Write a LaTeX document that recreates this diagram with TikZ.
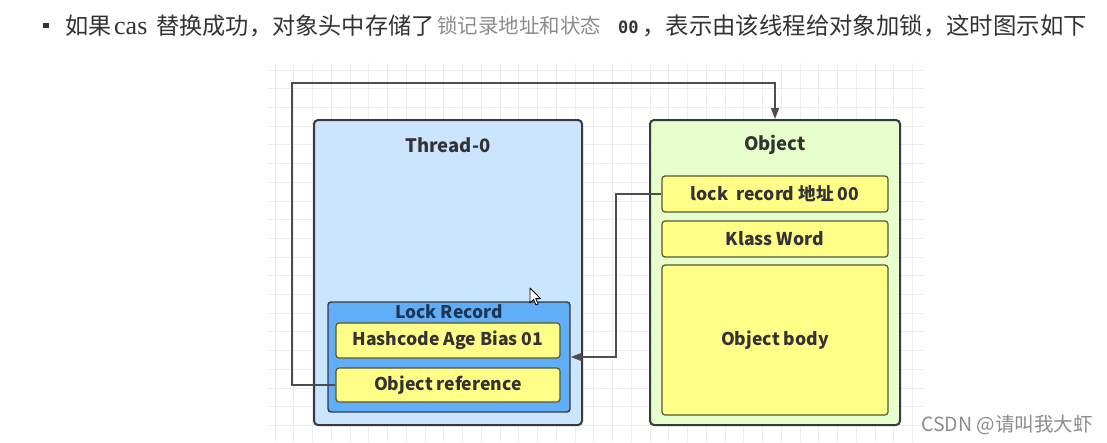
\documentclass[tikz,border=0pt]{standalone}
\usepackage{fontspec}
\setmainfont{Noto Sans}
\newfontfamily\cjk{Noto Sans CJK SC}
\newfontfamily\serifcas{Liberation Serif}
\newfontfamily\monozero{DejaVu Sans Mono}
\usetikzlibrary{arrows.meta}
\definecolor{txt}{HTML}{333333}
\definecolor{gridc}{HTML}{EDEDED}
\definecolor{edge}{HTML}{36393D}
\definecolor{conn}{HTML}{4D4D4D}
\definecolor{threadfill}{HTML}{CCE5FF}
\definecolor{lrfill}{HTML}{61AEF8}
\definecolor{yel}{HTML}{FFFF88}
\definecolor{objfill}{HTML}{E6FFCC}
\definecolor{lrtitle}{HTML}{1F3550}
\begin{document}
\begin{tikzpicture}[x=1pt,y=-1pt,
  outerbox/.style={draw=edge, line width=2pt, rounded corners=4pt, inner sep=0pt},
  yelbox/.style={draw=edge!85!yellow, line width=1.2pt, fill=yel, rounded corners=3pt, inner sep=0pt,
     font=\cjk\bfseries\fontsize{17.6}{20}\selectfont, text=txt},
  title/.style={font=\cjk\bfseries\fontsize{18.5}{21}\selectfont, text=txt, inner sep=0pt},
  hdr/.style={inner sep=0pt, anchor=base west, text=txt},
  link/.style={draw=conn, line width=1.4pt},
  tip/.style={-{Triangle[length=11pt,width=8pt]}}
]
\useasboundingbox (0,0) rectangle (1107,442);
\fill[white] (0,0) rectangle (1107,442);
% grid
\foreach \i in {0,...,34} \draw[gridc, line width=0.7pt] ({275+18.75*\i},63) -- ({275+18.75*\i},442);
\foreach \j in {0,...,19} \draw[gridc, line width=0.7pt] (268,{70+18.7*\j}) -- (924,{70+18.7*\j});
% header
\fill[txt] (43,22.5) rectangle (48.5,28);
\node[hdr, font=\cjk\fontsize{23.2}{26}\selectfont] (h1) at (65,34) {如果};
\node[hdr, font=\serifcas\fontsize{26}{28}\selectfont] (h2) at (114,34) {cas};
\node[hdr, font=\cjk\fontsize{23.2}{26}\selectfont] (h3) at (156,34) {替换成功，对象头中存储了};
\node[hdr, font=\cjk\fontsize{20.5}{24}\selectfont, text=black!45] (h4) at (437,33) {锁记录地址和状态};
\node[hdr, font=\monozero\bfseries\fontsize{17}{20}\selectfont] (h5) at (618,33) {00};
\node[hdr, font=\cjk\fontsize{23.4}{26}\selectfont] (h6) at (642,34) {，表示由该线程给对象加锁，这时图示如下};
% Thread-0
\node[outerbox, fill=threadfill, minimum width=268pt, minimum height=305pt] (thread) at (448,272.5) {};
\node[title] (tt) at (448,145) {Thread-0};
\node[draw=edge, line width=1.4pt, fill=lrfill, rounded corners=3pt, inner sep=0pt, minimum width=242pt, minimum height=110pt] (lr) at (449,357) {};
\node[title, text=lrtitle, font=\cjk\bfseries\fontsize{17.4}{20}\selectfont] (lrt) at (449,311.5) {Lock Record};
\node[yelbox, minimum width=224pt, minimum height=35pt] (hash) at (448,340.5) {Hashcode Age Bias 01};
\node[yelbox, minimum width=224pt, minimum height=34pt] (objref) at (448,385) {Object reference};
% Object
\node[outerbox, fill=objfill, minimum width=250pt, minimum height=305pt] (obj) at (775,272.5) {};
\node[title] (ot) at (775,145) {Object};
\node[yelbox, minimum width=226pt, minimum height=36pt] (lrec) at (775,194) {lock\ \ record 地址 00};
\node[yelbox, minimum width=226pt, minimum height=36pt] (klass) at (775,239) {Klass Word};
\node[yelbox, minimum width=226pt, minimum height=150pt] (body) at (775,340) {Object body};
% connectors
\coordinate (c1) at (292,83);
\coordinate (c2) at (616,194);
\draw[link, tip] (objref.west) -| (c1) -| (obj.north);
\draw[link, tip] (lrec.west) -- (c2) |- (lr.east);
% cursor
\draw[black, fill=white, line width=0.8pt, line join=round] (530,288) -- (530,303) -- (533.5,299.5) -- (536,305) -- (538.2,304) -- (535.7,298.6) -- (540.5,298.6) -- cycle;
% watermark
\node[hdr, font=\cjk\fontsize{19.5}{22}\selectfont, text=black!45] (wm) at (921,431) {CSDN @请叫我大虾};
\end{tikzpicture}
\end{document}
